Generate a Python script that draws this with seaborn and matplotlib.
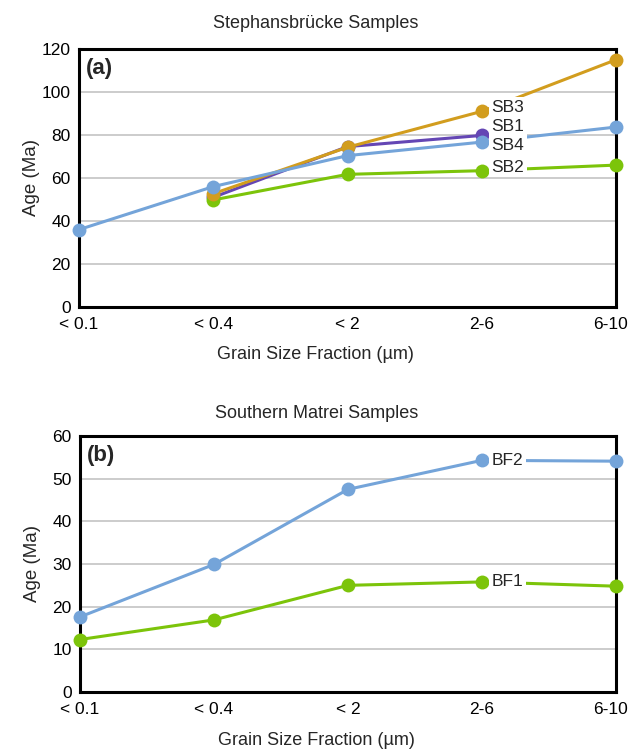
import numpy as np
import pandas as pd
import matplotlib
matplotlib.use("Agg")
import matplotlib.pyplot as plt
import matplotlib.transforms as mtransforms
import seaborn as sns

categories = ["< 0.1", "< 0.4", "< 2", "2-6", "6-10"]

# Panel (a) Stephansbrücke
sb1 = [np.nan, 51.0, 74.6, 79.8, np.nan]
sb2 = [np.nan, 49.8, 61.7, 63.4, 66.0]
sb3 = [np.nan, 52.7, 74.3, 91.0, 115.0]
sb4 = [36.0, 56.0, 70.4, 76.7, 83.7]

# Panel (b) Southern Matrei
bf1 = [12.3, 16.9, 25.0, 25.8, 24.8]
bf2 = [17.6, 29.9, 47.5, 54.3, 54.1]

colors = {"SB1": "#6446b4", "SB2": "#7cc40a", "SB3": "#d29d1e", "SB4": "#74a4d9",
          "BF1": "#7cc40a", "BF2": "#74a4d9"}

def long_df(series):
    rows = []
    for name, vals in series.items():
        for i, v in enumerate(vals):
            if not np.isnan(v):
                rows.append({"pos": i, "Age": v, "sample": name})
    return pd.DataFrame(rows)

df_a = long_df({"SB1": sb1, "SB2": sb2, "SB3": sb3, "SB4": sb4})
df_b = long_df({"BF1": bf1, "BF2": bf2})

sns.set_theme(style="white")
plt.rcParams["font.family"] = ["Liberation Sans", "DejaVu Sans"]

fig = plt.figure(figsize=(6.30, 7.49), dpi=100)
W, H = 630, 749
ax_a = fig.add_axes([79 / W, 1 - 307 / H, (616 - 79) / W, (307 - 49) / H])
ax_b = fig.add_axes([80 / W, 1 - 692 / H, (616 - 80) / W, (692 - 436) / H])

def style(ax, df, order, ymax, ystep, title, tag, labels, xl_y, title_y):
    sns.lineplot(data=df, x="pos", y="Age", hue="sample", hue_order=order,
                 palette=colors, marker="o", markersize=10, markeredgewidth=0,
                 linewidth=2.2, ax=ax, legend=False, zorder=3)
    for ln in ax.lines:
        ln.set_clip_on(False)
    ax.set_xlim(0, 4)
    ax.set_ylim(0, ymax)
    ax.set_yticks(np.arange(0, ymax + 1, ystep))
    ax.set_xticks(range(len(categories)))
    ax.set_xticklabels(categories)
    ax.tick_params(axis="both", labelsize=12.5, length=0, colors="black")
    ax.tick_params(axis="x", pad=7)
    ax.tick_params(axis="y", pad=6)
    last = ax.get_xticklabels()[-1]
    last.set_transform(last.get_transform() +
                       mtransforms.ScaledTranslation(-5 / 100, 0, fig.dpi_scale_trans))
    for y in np.arange(ystep, ymax, ystep):
        ax.axhline(y, color="#c8c8c8", lw=1.3, zorder=1)
    for sp in ax.spines.values():
        sp.set_color("black")
        sp.set_linewidth(2.2)
        sp.set_zorder(2)
    ax.set_xlabel("Grain Size Fraction (µm)", fontsize=13)
    ax.xaxis.set_label_coords(0.441, xl_y)
    ax.set_ylabel("Age (Ma)", fontsize=13.5)
    ax.yaxis.set_label_coords(-0.072, 0.5)
    ax.text(0.441, title_y, title, transform=ax.transAxes, fontsize=13,
            ha="center", va="center")
    ax.text(0.013, 0.965, tag, transform=ax.transAxes, fontsize=16,
            fontweight="bold", va="top", ha="left")
    for text, y in labels:
        ax.text(3.07, y, text, fontsize=12.5, va="center", ha="left", zorder=4,
                bbox=dict(boxstyle="square,pad=0.15", fc="white", ec="none"))

style(ax_a, df_a, ["SB1", "SB2", "SB3", "SB4"], 120, 20,
      "Stephansbrücke Samples", "(a)",
      [("SB3", 93), ("SB1", 84), ("SB4", 75), ("SB2", 65)],
      xl_y=-0.152, title_y=1.097)
style(ax_b, df_b, ["BF1", "BF2"], 60, 10,
      "Southern Matrei Samples", "(b)",
      [("BF2", 54.3), ("BF1", 25.8)],
      xl_y=-0.157, title_y=1.088)

fig.savefig("out.png", dpi=100)
